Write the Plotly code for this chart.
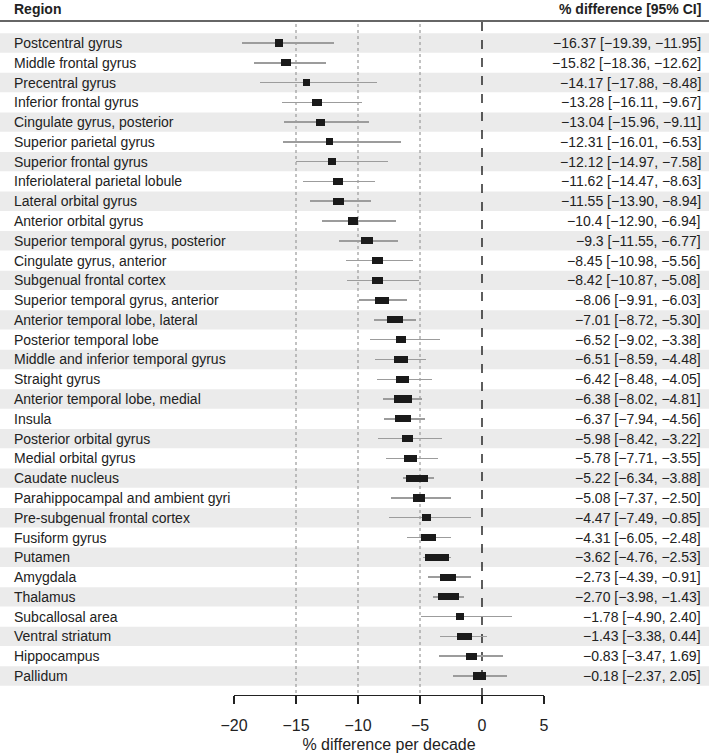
import plotly.graph_objects as go

regions = ["Postcentral gyrus", "Middle frontal gyrus", "Precentral gyrus", "Inferior frontal gyrus",
           "Cingulate gyrus, posterior", "Superior parietal gyrus", "Superior frontal gyrus",
           "Inferiolateral parietal lobule", "Lateral orbital gyrus", "Anterior orbital gyrus",
           "Superior temporal gyrus, posterior", "Cingulate gyrus, anterior", "Subgenual frontal cortex",
           "Superior temporal gyrus, anterior", "Anterior temporal lobe, lateral", "Posterior temporal lobe",
           "Middle and inferior temporal gyrus", "Straight gyrus", "Anterior temporal lobe, medial", "Insula",
           "Posterior orbital gyrus", "Medial orbital gyrus", "Caudate nucleus",
           "Parahippocampal and ambient gyri", "Pre-subgenual frontal cortex", "Fusiform gyrus", "Putamen",
           "Amygdala", "Thalamus", "Subcallosal area", "Ventral striatum", "Hippocampus", "Pallidum"]

estimate = [-16.37, -15.82, -14.17, -13.28, -13.04, -12.31, -12.12, -11.62, -11.55, -10.4, -9.3, -8.45,
            -8.42, -8.06, -7.01, -6.52, -6.51, -6.42, -6.38, -6.37, -5.98, -5.78, -5.22, -5.08, -4.47,
            -4.31, -3.62, -2.73, -2.70, -1.78, -1.43, -0.83, -0.18]
estimate_text = ["-16.37", "-15.82", "-14.17", "-13.28", "-13.04", "-12.31", "-12.12", "-11.62", "-11.55",
                 "-10.4", "-9.3", "-8.45", "-8.42", "-8.06", "-7.01", "-6.52", "-6.51", "-6.42", "-6.38",
                 "-6.37", "-5.98", "-5.78", "-5.22", "-5.08", "-4.47", "-4.31", "-3.62", "-2.73", "-2.70",
                 "-1.78", "-1.43", "-0.83", "-0.18"]
ci_low = [-19.39, -18.36, -17.88, -16.11, -15.96, -16.01, -14.97, -14.47, -13.90, -12.90, -11.55, -10.98,
          -10.87, -9.91, -8.72, -9.02, -8.59, -8.48, -8.02, -7.94, -8.42, -7.71, -6.34, -7.37, -7.49,
          -6.05, -4.76, -4.39, -3.98, -4.90, -3.38, -3.47, -2.37]
ci_high = [-11.95, -12.62, -8.48, -9.67, -9.11, -6.53, -7.58, -8.63, -8.94, -6.94, -6.77, -5.56, -5.08,
           -6.03, -5.30, -3.38, -4.48, -4.05, -4.81, -4.56, -3.22, -3.55, -3.88, -2.50, -0.85, -2.48,
           -2.53, -0.91, -1.43, 2.40, 0.44, 1.69, 2.05]
# box (weight) widths in x-axis units
box_width = [0.62, 0.83, 0.54, 0.78, 0.73, 0.56, 0.67, 0.83, 0.91, 0.83, 0.97, 0.89, 0.83, 1.19, 1.31,
             0.81, 1.13, 1.05, 1.40, 1.29, 0.91, 1.07, 1.77, 0.94, 0.73, 1.27, 1.94, 1.29, 1.72, 0.67,
             1.19, 0.91, 1.02]
x_ticks = [-20, -15, -10, -5, 0, 5]
ref_lines = [-15, -10, -5]

W, H = 709, 755
FONT = "Liberation Sans, Arial, Helvetica, sans-serif"
n = len(regions)
rows = list(range(n))

def mfmt(s):
    return s.replace("-", "\u2212")

# pixel geometry
row0_px, row_step = 43.0, 19.78
top_px, axis_px = 22.0, 695.0
y_top = (top_px - row0_px) / row_step
y_bot = (axis_px - row0_px) / row_step

fig = go.Figure()

# CI lines (thin horizontal bars, drawn first so boxes sit on top)
fig.add_trace(go.Bar(orientation="h", y=rows, x=[ci_high[i] - ci_low[i] for i in rows], base=ci_low,
                     width=1.5 / row_step, marker=dict(color="#9c9c9c", line=dict(width=0)),
                     showlegend=False, hoverinfo="skip"))

# boxes
fig.add_trace(go.Bar(orientation="h", y=rows, x=box_width,
                     base=[estimate[i] - box_width[i] / 2 for i in rows],
                     width=0.36, marker=dict(color="#1a1a1a", line=dict(width=0)),
                     showlegend=False, hoverinfo="skip"))

shapes = []
for i in rows:
    if i % 2 == 0:
        shapes.append(dict(type="rect", xref="paper", yref="y", x0=0, x1=1, y0=i - 0.49, y1=i + 0.49,
                           fillcolor="#ebebeb", line=dict(width=0), layer="below"))
for v in ref_lines:
    shapes.append(dict(type="line", xref="x", yref="y", x0=v, x1=v, y0=y_top + 0.1, y1=y_bot,
                       line=dict(color="#9a9a9a", width=1.2, dash="dot"), layer="below"))
shapes.append(dict(type="line", xref="x", yref="y", x0=0, x1=0, y0=y_top, y1=y_bot,
                   line=dict(color="#1a1a1a", width=1.4, dash="dash"), layer="below"))
shapes.append(dict(type="line", xref="paper", yref="paper", x0=0, x1=1, y0=1 - 21 / H, y1=1 - 21 / H,
                   line=dict(color="#333333", width=1.4)))

ann = []
for i in rows:
    ann.append(dict(x=12 / W, xref="paper", y=i, yref="y", text=regions[i], showarrow=False,
                    xanchor="left", yanchor="middle", font=dict(size=14, color="#222222", family=FONT)))
    txt = f"{mfmt(estimate_text[i])} [{mfmt(f'{ci_low[i]:.2f}')}, {mfmt(f'{ci_high[i]:.2f}')}]"
    ann.append(dict(x=703 / W, xref="paper", y=i, yref="y", text=txt, showarrow=False,
                    xanchor="right", yanchor="middle", font=dict(size=14, color="#222222", family=FONT)))
ann.append(dict(x=12 / W, xref="paper", y=1 - 9 / H, yref="paper", text="<b>Region</b>", showarrow=False,
                xanchor="left", yanchor="middle", font=dict(size=14, color="#222222", family=FONT)))
ann.append(dict(x=703 / W, xref="paper", y=1 - 9 / H, yref="paper", text="<b>% difference [95% CI]</b>",
                showarrow=False, xanchor="right", yanchor="middle",
                font=dict(size=14, color="#222222", family=FONT)))

fig.update_layout(
    template="none", autosize=False,
    width=W, height=H, margin=dict(l=0, r=0, t=0, b=0, pad=0),
    paper_bgcolor="white", plot_bgcolor="rgba(0,0,0,0)",
    shapes=shapes, annotations=ann, barmode="overlay", bargap=0, showlegend=False,
    font=dict(family=FONT, color="#222222"),
    xaxis=dict(domain=[234 / W, 544 / W], range=[-20, 5], tickvals=x_ticks, automargin=False,
               showgrid=False, zeroline=False, showline=True, linecolor="#222222", linewidth=1.3,
               ticks="outside", ticklen=8, tickwidth=1.3, tickcolor="#222222", ticklabelstandoff=7,
               tickfont=dict(size=16, color="#222222"),
               title=dict(text="% difference per decade", font=dict(size=16, color="#222222"), standoff=6)),
    yaxis=dict(domain=[1 - axis_px / H, 1 - top_px / H], range=[y_bot, y_top], visible=False,
               automargin=False, showgrid=False, zeroline=False),
)

fig.write_html("out.html", config={"displayModeBar": False, "staticPlot": True},
               post_script="document.body.style.margin='0';document.body.style.overflow='hidden';")
